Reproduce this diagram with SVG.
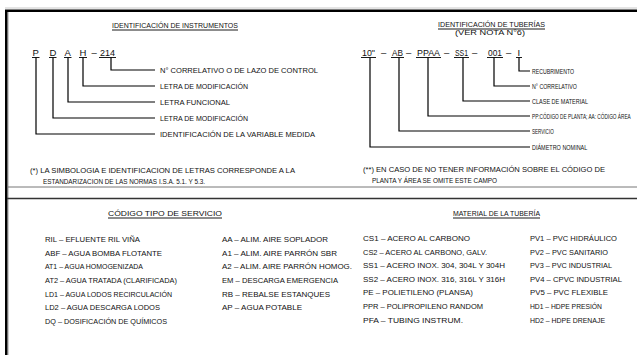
<svg xmlns="http://www.w3.org/2000/svg" width="637" height="355" viewBox="0 0 637 355">
<style>
.t{font-family:"Liberation Sans",Arial,sans-serif;font-size:8px;fill:#111}
.s{font-family:"Liberation Sans",Arial,sans-serif;font-size:7px;fill:#111}
.h{font-family:"Liberation Sans",Arial,sans-serif;font-size:7px;fill:#111}
.c{font-family:"Liberation Sans",Arial,sans-serif;font-size:9.5px;fill:#111}
.ln{stroke:#000;stroke-width:1.2;fill:none}
.ul{stroke:#000;stroke-width:0.9;fill:none}
</style>
<rect x="0" y="0" width="637" height="355" fill="#fff"/>
<g id="frame">
<line x1="5" y1="8" x2="637" y2="8" stroke="#bbb" stroke-width="0.8"/>
<line x1="5" y1="10.8" x2="637" y2="10.8" stroke="#000" stroke-width="2.6"/>
<line x1="6.3" y1="10" x2="6.3" y2="355" stroke="#000" stroke-width="2.6"/>
<line x1="8.2" y1="12" x2="8.2" y2="355" stroke="#999" stroke-width="0.7"/>
<line x1="7" y1="187" x2="637" y2="187" stroke="#777" stroke-width="1"/>
<line x1="7" y1="198.5" x2="637" y2="198.5" stroke="#333" stroke-width="1.4"/>
</g>
<g id="instrumentos">
<text class="h" x="112" y="28" textLength="126" lengthAdjust="spacingAndGlyphs">IDENTIFICACIÓN DE INSTRUMENTOS</text>
<line class="ul" x1="112" y1="30" x2="238" y2="30"/>
<text class="c" x="32.5" y="56">P</text>
<text class="c" x="49.5" y="56">D</text>
<text class="c" x="64.5" y="56">A</text>
<text class="c" x="79.5" y="56">H</text>
<text class="c" x="91.5" y="56">–</text>
<text class="c" x="100" y="56" textLength="15" lengthAdjust="spacingAndGlyphs">214</text>
<g class="ul">
<line x1="32" y1="57.5" x2="39.5" y2="57.5"/>
<line x1="49" y1="57.5" x2="56.5" y2="57.5"/>
<line x1="64" y1="57.5" x2="71.5" y2="57.5"/>
<line x1="79" y1="57.5" x2="87" y2="57.5"/>
<line x1="99" y1="57.5" x2="116" y2="57.5"/>
</g>
<text class="t" x="160" y="73" textLength="158" lengthAdjust="spacingAndGlyphs">N° CORRELATIVO O DE LAZO DE CONTROL</text>
<text class="t" x="160" y="89" textLength="88" lengthAdjust="spacingAndGlyphs">LETRA DE MODIFICACIÓN</text>
<text class="t" x="160" y="105" textLength="70" lengthAdjust="spacingAndGlyphs">LETRA FUNCIONAL</text>
<text class="t" x="160" y="121" textLength="88" lengthAdjust="spacingAndGlyphs">LETRA DE MODIFICACIÓN</text>
<text class="t" x="160" y="137" textLength="155" lengthAdjust="spacingAndGlyphs">IDENTIFICACIÓN DE LA VARIABLE MEDIDA</text>
<text class="t" x="30" y="173" textLength="265" lengthAdjust="spacingAndGlyphs">(*) LA SIMBOLOGIA E IDENTIFICACION DE LETRAS CORRESPONDE A LA</text>
<text class="t" x="43" y="184" textLength="162" lengthAdjust="spacingAndGlyphs">ESTANDARIZACION DE LAS NORMAS I.S.A. 5.1. Y 5.3.</text>
</g>
<g id="tuberias">
<text class="h" x="438" y="27" textLength="107" lengthAdjust="spacingAndGlyphs">IDENTIFICACIÓN DE TUBERÍAS</text>
<line class="ul" x1="438" y1="29" x2="545" y2="29"/>
<text class="h" x="455" y="35" textLength="70" lengthAdjust="spacingAndGlyphs">(VER NOTA N°6)</text>
<text class="c" x="362" y="56" textLength="13" lengthAdjust="spacingAndGlyphs">10"</text>
<text class="c" x="381" y="56">–</text>
<text class="c" x="392" y="56" textLength="11" lengthAdjust="spacingAndGlyphs">AB</text>
<text class="c" x="406" y="56">–</text>
<text class="c" x="417" y="56" textLength="23" lengthAdjust="spacingAndGlyphs">PPAA</text>
<text class="c" x="444" y="56">–</text>
<text class="c" x="455" y="56" textLength="13" lengthAdjust="spacingAndGlyphs">SS1</text>
<text class="c" x="472" y="56">–</text>
<text class="c" x="488" y="56" textLength="14" lengthAdjust="spacingAndGlyphs">001</text>
<text class="c" x="506" y="56">–</text>
<text class="c" x="517.5" y="56">I</text>
<g class="ul">
<line x1="361" y1="57.5" x2="376" y2="57.5"/>
<line x1="391" y1="57.5" x2="404" y2="57.5"/>
<line x1="416" y1="57.5" x2="441" y2="57.5"/>
<line x1="454" y1="57.5" x2="469" y2="57.5"/>
<line x1="487" y1="57.5" x2="503" y2="57.5"/>
<line x1="516" y1="57.5" x2="522" y2="57.5"/>
</g>
<text class="s" transform="translate(532,73.5) scale(0.7,1)" x="0" y="0" textLength="60" lengthAdjust="spacingAndGlyphs">RECUBRIMENTO</text>
<text class="s" transform="translate(532,88.5) scale(0.7,1)" x="0" y="0" textLength="64" lengthAdjust="spacingAndGlyphs">N° CORRELATIVO</text>
<text class="s" transform="translate(532,103.5) scale(0.7,1)" x="0" y="0" textLength="80" lengthAdjust="spacingAndGlyphs">CLASE DE MATERIAL</text>
<text class="s" transform="translate(532,118.5) scale(0.7,1)" x="0" y="0" textLength="141" lengthAdjust="spacingAndGlyphs">PP:CÓDIGO DE PLANTA; AA: CÓDIGO ÁREA</text>
<text class="s" transform="translate(532,133.5) scale(0.7,1)" x="0" y="0" textLength="31" lengthAdjust="spacingAndGlyphs">SERVICIO</text>
<text class="s" transform="translate(532,149.5) scale(0.7,1)" x="0" y="0" textLength="79" lengthAdjust="spacingAndGlyphs">DIÁMETRO NOMINAL</text>
<text class="t" x="363" y="172" textLength="242" lengthAdjust="spacingAndGlyphs">(**) EN CASO DE NO TENER INFORMACIÓN SOBRE EL CÓDIGO DE</text>
<text class="t" x="372" y="183" textLength="125" lengthAdjust="spacingAndGlyphs">PLANTA Y ÁREA SE OMITE ESTE CAMPO</text>
</g>
<g id="connectors" class="ln">
<polyline points="36,57.5 36,134 155,134"/>
<polyline points="53,57.5 53,118 155,118"/>
<polyline points="68,57.5 68,102 155,102"/>
<polyline points="83,57.5 83,86 155,86"/>
<polyline points="111,57.5 111,70 155,70"/>
<polyline points="370,57.5 370,147 530,147"/>
<polyline points="399,57.5 399,131 530,131"/>
<polyline points="428,57.5 428,116 530,116"/>
<polyline points="463,57.5 463,101 530,101"/>
<polyline points="494,57.5 494,86 530,86"/>
<polyline points="519,57.5 519,71 530,71"/>
</g>
<g id="servicio">
<text class="h" x="108" y="216" textLength="114" lengthAdjust="spacingAndGlyphs">CÓDIGO TIPO DE SERVICIO</text>
<line class="ul" x1="108" y1="218" x2="222" y2="218"/>
<text class="t" x="45" y="242" textLength="95" lengthAdjust="spacingAndGlyphs">RIL – EFLUENTE RIL VIÑA</text>
<text class="t" x="45" y="255.5" textLength="117" lengthAdjust="spacingAndGlyphs">ABF – AGUA BOMBA FLOTANTE</text>
<text class="t" x="45" y="269" textLength="98" lengthAdjust="spacingAndGlyphs">AT1 – AGUA HOMOGENIZADA</text>
<text class="t" x="45" y="283" textLength="132" lengthAdjust="spacingAndGlyphs">AT2 – AGUA TRATADA (CLARIFICADA)</text>
<text class="t" x="45" y="296.5" textLength="127" lengthAdjust="spacingAndGlyphs">LD1 – AGUA LODOS RECIRCULACIÓN</text>
<text class="t" x="45" y="310" textLength="115" lengthAdjust="spacingAndGlyphs">LD2 – AGUA DESCARGA LODOS</text>
<text class="t" x="45" y="324" textLength="122" lengthAdjust="spacingAndGlyphs">DQ – DOSIFICACIÓN DE QUÍMICOS</text>
<text class="t" x="222" y="242" textLength="106" lengthAdjust="spacingAndGlyphs">AA – ALIM. AIRE SOPLADOR</text>
<text class="t" x="222" y="255.5" textLength="115" lengthAdjust="spacingAndGlyphs">A1 – ALIM. AIRE PARRÓN SBR</text>
<text class="t" x="222" y="269" textLength="130" lengthAdjust="spacingAndGlyphs">A2 – ALIM. AIRE PARRÓN HOMOG.</text>
<text class="t" x="222" y="283" textLength="116" lengthAdjust="spacingAndGlyphs">EM – DESCARGA EMERGENCIA</text>
<text class="t" x="222" y="296.5" textLength="108" lengthAdjust="spacingAndGlyphs">RB – REBALSE ESTANQUES</text>
<text class="t" x="222" y="310" textLength="80" lengthAdjust="spacingAndGlyphs">AP – AGUA POTABLE</text>
</g>
<g id="material">
<text class="h" x="453" y="216" textLength="87" lengthAdjust="spacingAndGlyphs">MATERIAL DE LA TUBERÍA</text>
<line class="ul" x1="453" y1="218" x2="540" y2="218"/>
<text class="t" x="363" y="241" textLength="107" lengthAdjust="spacingAndGlyphs">CS1 – ACERO AL CARBONO</text>
<text class="t" x="363" y="254.5" textLength="124" lengthAdjust="spacingAndGlyphs">CS2 – ACERO AL CARBONO, GALV.</text>
<text class="t" x="363" y="268" textLength="142" lengthAdjust="spacingAndGlyphs">SS1 – ACERO INOX. 304, 304L Y 304H</text>
<text class="t" x="363" y="281.5" textLength="142" lengthAdjust="spacingAndGlyphs">SS2 – ACERO INOX. 316, 316L Y 316H</text>
<text class="t" x="363" y="295" textLength="110" lengthAdjust="spacingAndGlyphs">PE – POLIETILENO (PLANSA)</text>
<text class="t" x="363" y="308.5" textLength="120" lengthAdjust="spacingAndGlyphs">PPR – POLIPROPILENO RANDOM</text>
<text class="t" x="363" y="323" textLength="100" lengthAdjust="spacingAndGlyphs">PFA – TUBING INSTRUM.</text>
<text class="t" x="530" y="241" textLength="87" lengthAdjust="spacingAndGlyphs">PV1 – PVC HIDRÁULICO</text>
<text class="t" x="530" y="254.5" textLength="78" lengthAdjust="spacingAndGlyphs">PV2 – PVC SANITARIO</text>
<text class="t" x="530" y="268" textLength="82" lengthAdjust="spacingAndGlyphs">PV3 – PVC INDUSTRIAL</text>
<text class="t" x="530" y="281.5" textLength="92" lengthAdjust="spacingAndGlyphs">PV4 – CPVC INDUSTRIAL</text>
<text class="t" x="530" y="295" textLength="78" lengthAdjust="spacingAndGlyphs">PV5 – PVC FLEXIBLE</text>
<text class="t" x="530" y="308.5" textLength="72" lengthAdjust="spacingAndGlyphs">HD1 – HDPE PRESIÓN</text>
<text class="t" x="530" y="323" textLength="75" lengthAdjust="spacingAndGlyphs">HD2 – HDPE DRENAJE</text>
</g>
</svg>
